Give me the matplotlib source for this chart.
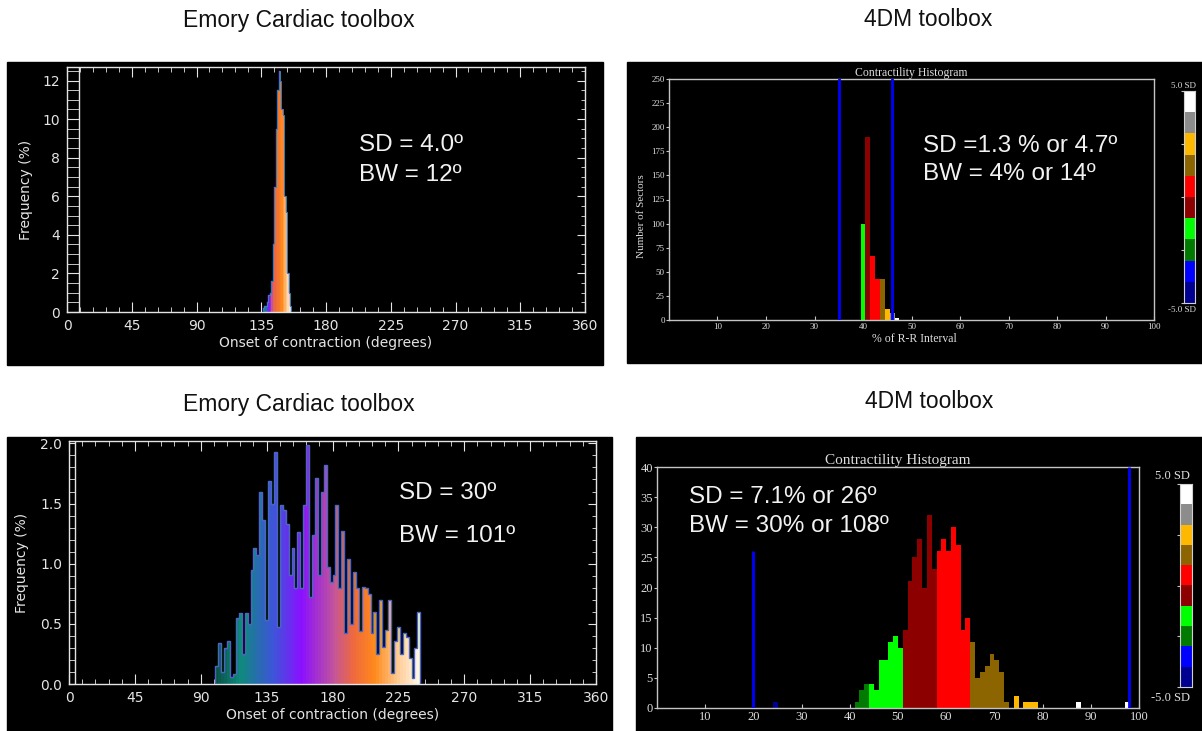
import numpy as np
import matplotlib.pyplot as plt
from matplotlib.patches import Rectangle
from matplotlib.colors import LinearSegmentedColormap, ListedColormap
from matplotlib.ticker import FormatStrFormatter

W, H = 1202, 731

# Emory Cardiac toolbox, top: narrow distribution, 1 degree bins
tl_start = 136
tl_width = 1
tl_freq = [0.2, 0.3, 0.3, 0.5, 0.9, 1.0, 1.6, 3.5, 6.5, 9.5,
           11.5, 12.5, 12.0, 10.5, 10.2, 6.0, 5.2, 2.0, 1.0, 0.3]

# Emory Cardiac toolbox, bottom: wide distribution, 2 degree bins
bl_start = 100
bl_width = 2
bl_freq = [0.15, 0.34, 0.10, 0.30, 0.36, 0.06, 0.08, 0.55, 0.59, 0.25,
           0.59, 0.50, 0.95, 1.13, 1.07, 1.60, 1.36, 0.53, 1.69, 1.50,
           1.93, 0.47, 1.49, 1.45, 1.33, 0.91, 1.13, 0.80, 1.26, 0.80,
           1.49, 1.99, 0.72, 1.24, 1.71, 0.91, 1.60, 1.82, 0.97, 0.85,
           0.91, 1.49, 0.80, 1.27, 0.42, 1.04, 0.50, 0.93, 0.80, 0.44,
           0.81, 0.80, 0.75, 0.42, 0.60, 0.25, 0.70, 0.31, 0.45, 0.70,
           0.09, 0.36, 0.47, 0.25, 0.42, 0.39, 0.22, 0.05, 0.30, 0.60]

# 4DM toolbox, top
tr_pos = [40, 41, 42, 43, 44, 45, 46, 47]
tr_count = [100, 190, 66, 43, 43, 11, 7, 2]
tr_sd = [3, 4, 5, 5, 6, 7, 8, 9]
tr_lines = [35, 46]

# 4DM toolbox, bottom
br_pos = [24, 41, 42, 43, 44, 45, 46, 47, 48, 49, 50,
          51, 52, 53, 54, 55, 56, 57, 58, 59, 60, 61, 62, 63, 64,
          65, 66, 67, 68, 69, 70, 71, 72, 74, 76, 77, 78, 87, 97]
br_count = [1, 1, 3, 4, 4, 3, 8, 8, 11, 12, 10,
            13, 21, 25, 28, 20, 32, 23, 26, 28, 26, 30, 27, 13, 15,
            11, 5, 6, 7, 9, 8, 6, 1, 2, 1, 1, 1, 1, 1]
br_sd = [0, 2, 2, 2, 3, 3, 3, 3, 3, 3, 3,
         4, 4, 4, 4, 4, 4, 4, 5, 5, 5, 5, 5, 5, 5,
         6, 6, 6, 6, 6, 6, 6, 6, 7, 7, 7, 7, 9, 9]
br_lines = [20, 98]
br_line_top = [26, 40]

# colour bar segments, -5 SD (bottom) to +5 SD (top)
sd_colors = ['#000090', '#0000ff', '#007a00', '#00ff00', '#8c0000',
             '#ff0000', '#8c6400', '#ffb800', '#8c8c8c', '#ffffff']

emory_cmap = LinearSegmentedColormap.from_list('emory', [
    (0.0, '#0a4f48'), (0.12, '#0f8a7c'), (0.28, '#3c55d8'), (0.42, '#8a10ff'),
    (0.58, '#c2559a'), (0.68, '#f06a3a'), (0.78, '#ff8a1c'), (0.9, '#ffcf9c'),
    (1.0, '#fff8ea')])

FG = '#e4e4e4'
SERIF = 'Liberation Serif'
SANS = 'Liberation Sans'


def box(x0, y0, x1, y1):
    return [x0 / W, 1 - y1 / H, (x1 - x0) / W, (y1 - y0) / H]


def emory(ax, start, width, freq, frac, ymax, ymajor, yminor, ladder, fmt, edge_lw):
    ax.set_facecolor('black')
    edges = start + width * np.arange(len(freq) + 1)
    centers = edges[:-1] + width / 2
    ax.bar(edges[:-1], freq, width=width, align='edge',
           color=emory_cmap(frac(centers)), linewidth=0, zorder=2)
    ax.stairs(freq, edges, color='#15a08e', lw=edge_lw, zorder=3)
    ax.stairs(freq, edges, color='#8a2cff', lw=edge_lw * 0.45, zorder=3)
    ax.axvline(ladder, color=FG, lw=1, zorder=4)
    ax.set_xlim(0, 360)
    ax.set_ylim(0, ymax)
    ax.set_xticks(np.arange(0, 361, 45))
    ax.set_xticks(np.arange(0, 361, 9), minor=True)
    ax.set_yticks(np.arange(0, ymax, ymajor))
    ax.set_yticks(np.arange(0, ymax, yminor), minor=True)
    ax.yaxis.set_major_formatter(FormatStrFormatter(fmt))
    for s in ax.spines.values():
        s.set_color(FG)
        s.set_linewidth(1)
    ax.tick_params(which='both', direction='in', colors=FG, labelsize=10,
                   top=True, right=False)
    ax.tick_params(axis='x', which='major', length=7, pad=5)
    ax.tick_params(axis='x', which='minor', length=3.5)
    lad = ladder / 360 * ax.get_position().width * W * 0.72
    ax.tick_params(axis='y', which='both', length=lad, pad=5)
    axr = ax.twinx()
    axr.set_ylim(0, ymax)
    axr.set_yticks(np.arange(0, ymax, ymajor))
    axr.set_yticks(np.arange(0, ymax, yminor), minor=True)
    axr.tick_params(which='both', direction='in', colors=FG, labelright=False)
    axr.tick_params(which='major', length=6)
    axr.tick_params(which='minor', length=3)
    for s in axr.spines.values():
        s.set_visible(False)
    ax.set_xlabel('Onset of contraction (degrees)', color=FG, fontsize=10)
    ax.xaxis.set_label_coords(0.5, -0.10)
    ax.set_ylabel('Frequency (%)', color=FG, fontsize=10)


def dm(ax, pos, count, sd, ymax, yticks, fs, title_fs):
    ax.set_facecolor('black')
    ax.bar(pos, count, width=1, color=[sd_colors[i] for i in sd],
           linewidth=0, zorder=2)
    ax.set_xlim(0, 100)
    ax.set_ylim(0, ymax)
    ax.set_xticks(range(10, 101, 10))
    ax.set_yticks(yticks)
    for s in ax.spines.values():
        s.set_color('#c4c4c4')
        s.set_linewidth(1)
    ax.tick_params(axis='x', direction='in', length=3, colors='#c4c4c4',
                   labelcolor='#dedede', labelsize=fs, pad=2)
    ax.tick_params(axis='y', direction='out', length=2.5, colors='#c4c4c4',
                   labelcolor='#dedede', labelsize=fs, pad=0.5)
    for t in ax.get_xticklabels() + ax.get_yticklabels():
        t.set_fontfamily(SERIF)
    ax.set_title('Contractility Histogram', color='#dedede', fontsize=title_fs,
                 family=SERIF, pad=1)


def colorbar(cax, label_fs, top_xy, bot_xy):
    cax.imshow(np.arange(10)[::-1].reshape(-1, 1), cmap=ListedColormap(sd_colors),
               vmin=-0.5, vmax=9.5, aspect='auto', extent=(0, 1, 10, 0),
               interpolation='nearest')
    cax.set_xticks([])
    cax.set_yticks([0, 2.5, 5, 7.5, 10])
    cax.tick_params(axis='y', direction='out', length=2, colors='#c4c4c4',
                    labelleft=False)
    for s in cax.spines.values():
        s.set_color('#d0d0d0')
        s.set_linewidth(0.8)
    fig.text(top_xy[0] / W, 1 - top_xy[1] / H, '5.0 SD', color='#dedede',
             fontsize=label_fs, family=SERIF, ha='right', va='center')
    fig.text(bot_xy[0] / W, 1 - bot_xy[1] / H, '-5.0 SD', color='#dedede',
             fontsize=label_fs, family=SERIF, ha='right', va='center')


fig = plt.figure(figsize=(W / 100, H / 100), dpi=100, facecolor='white')

# black panel backgrounds
for x0, y0, x1, y1 in [(7, 62, 603, 365), (627, 62, 1202, 363),
                       (7, 437, 612, 731), (636, 437, 1202, 731)]:
    fig.patches.append(Rectangle((x0 / W, 1 - y1 / H), (x1 - x0) / W, (y1 - y0) / H,
                                 transform=fig.transFigure, color='black', zorder=-5))

# row headings
for x, y, s in [(299, 20, 'Emory Cardiac toolbox'), (928, 20, '4DM toolbox'),
                (299, 404, 'Emory Cardiac toolbox'), (929, 402, '4DM toolbox')]:
    fig.text(x / W, 1 - y / H, s, ha='center', va='center', fontsize=16.5,
             family=SANS, color='#111111')

# Emory top
ax_tl = fig.add_axes(box(67, 67, 585, 312))
emory(ax_tl, tl_start, tl_width, tl_freq,
      lambda c: np.interp(c, [136, 141, 143, 149, 153, 155.5],
                          [0.08, 0.42, 0.64, 0.76, 0.9, 1.0]),
      12.7, 2, 0.5, 8.3, '%d', 0.7)
ax_tl.yaxis.set_label_coords(-0.066, 0.5)
ax_tl.text(0.564, 0.682, 'SD = 4.0º', transform=ax_tl.transAxes, color='#f2f2f2',
           fontsize=17.5, family=SANS, va='center', ha='left', zorder=5)
ax_tl.text(0.564, 0.559, 'BW = 12º', transform=ax_tl.transAxes, color='#f2f2f2',
           fontsize=17.5, family=SANS, va='center', ha='left', zorder=5)

# Emory bottom
ax_bl = fig.add_axes(box(69, 441, 596, 684))
emory(ax_bl, bl_start, bl_width, bl_freq, lambda c: (c - 100) / 140,
      2.02, 0.5, 0.1, 4.0, '%.1f', 1.0)
ax_bl.yaxis.set_label_coords(-0.076, 0.5)
ax_bl.text(0.626, 0.786, 'SD = 30º', transform=ax_bl.transAxes, color='#f2f2f2',
           fontsize=17.5, family=SANS, va='center', ha='left', zorder=5)
ax_bl.text(0.626, 0.609, 'BW = 101º', transform=ax_bl.transAxes, color='#f2f2f2',
           fontsize=17.5, family=SANS, va='center', ha='left', zorder=5)

# 4DM top
ax_tr = fig.add_axes(box(669, 79, 1154, 320))
dm(ax_tr, tr_pos, tr_count, tr_sd, 250, range(0, 251, 25), 6.5, 8.5)
for x in tr_lines:
    ax_tr.axvline(x, color='#0000ff', lw=2, zorder=3)
ax_tr.set_ylabel('Number of Sectors', color='#dedede', fontsize=8, family=SERIF)
ax_tr.yaxis.set_label_coords(-0.047, 0.43)
ax_tr.set_xlabel('% of R-R Interval', color='#dedede', fontsize=8.5, family=SERIF)
ax_tr.xaxis.set_label_coords(0.505, -0.055)
ax_tr.text(0.524, 0.722, 'SD =1.3 % or 4.7º', transform=ax_tr.transAxes,
           color='#f2f2f2', fontsize=17.5, family=SANS, va='center', ha='left')
ax_tr.text(0.524, 0.606, 'BW = 4% or 14º', transform=ax_tr.transAxes,
           color='#f2f2f2', fontsize=17.5, family=SANS, va='center', ha='left')
cb_tr = fig.add_axes(box(1184, 91, 1195, 303))
colorbar(cb_tr, 6.5, (1196, 86), (1196, 310))

# 4DM bottom
ax_br = fig.add_axes(box(657, 467, 1139, 708))
dm(ax_br, [p + 0.5 for p in br_pos], br_count, br_sd, 40, range(0, 41, 5), 9, 11)
for x, top in zip(br_lines, br_line_top):
    ax_br.vlines(x, 0, top, color='#0000ff', lw=2, zorder=3)
ax_br.text(0.066, 0.876, 'SD = 7.1% or 26º', transform=ax_br.transAxes,
           color='#f2f2f2', fontsize=17.5, family=SANS, va='center', ha='left')
ax_br.text(0.066, 0.755, 'BW = 30% or 108º', transform=ax_br.transAxes,
           color='#f2f2f2', fontsize=17.5, family=SANS, va='center', ha='left')
cb_br = fig.add_axes(box(1180, 484, 1192, 687))
colorbar(cb_br, 9, (1190, 476), (1190, 698))

fig.savefig('out.png', dpi=100, facecolor='white')
